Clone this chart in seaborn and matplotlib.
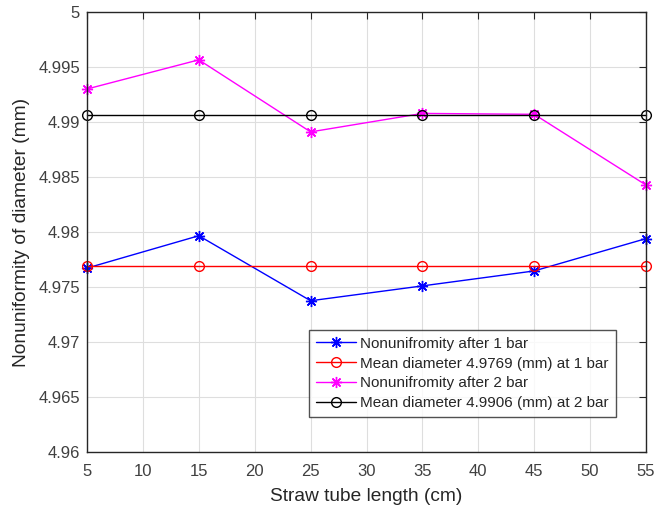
import numpy as np
import pandas as pd
import matplotlib
matplotlib.use("Agg")
import matplotlib.pyplot as plt
import seaborn as sns

# data
length_cm = [5, 15, 25, 35, 45, 55]
nonuni_1bar = [4.97672, 4.97966, 4.97375, 4.97510, 4.97646, 4.97940]
nonuni_2bar = [4.99300, 4.99565, 4.98910, 4.99078, 4.99070, 4.98427]
mean_1bar = 4.9769
mean_2bar = 4.9906

series = {
    "Nonunifromity after 1 bar": nonuni_1bar,
    "Mean diameter 4.9769 (mm) at 1 bar": [mean_1bar] * len(length_cm),
    "Nonunifromity after 2 bar": nonuni_2bar,
    "Mean diameter 4.9906 (mm) at 2 bar": [mean_2bar] * len(length_cm),
}
df = pd.concat(
    [pd.DataFrame({"length": length_cm, "value": v, "series": k}) for k, v in series.items()],
    ignore_index=True,
)

sns.set_style("white")
plt.rcParams["font.family"] = ["Liberation Sans", "DejaVu Sans"]

colors = ["#0000ff", "#ff0000", "#ff00ff", "#000000"]
asterisk = (8, 2, 0)  # matlab-like '*'
markers = [asterisk, "o", asterisk, "o"]

fig = plt.figure(figsize=(6.55, 5.11), dpi=100)
ax = fig.add_axes([87 / 655, 1 - 452 / 511, 559 / 655, 440 / 511])

for (name, grp), c, m in zip(df.groupby("series", sort=False), colors, markers):
    is_star = m != "o"
    sns.lineplot(
        data=grp, x="length", y="value", ax=ax, color=c, marker=m, label=name,
        linewidth=1.0, markersize=8 if is_star else 7,
        markerfacecolor=c if is_star else "none", markeredgecolor=c,
        markeredgewidth=1.0, clip_on=False,
    )

ax.set_xlim(5, 55)
ax.set_ylim(4.96, 5.0)
ax.set_xticks(np.arange(5, 56, 5))
ax.set_yticks(np.arange(4.96, 5.0001, 0.005))
ax.set_yticklabels(["4.96", "4.965", "4.97", "4.975", "4.98", "4.985", "4.99", "4.995", "5"])
ax.grid(True, color="#dedede", linewidth=0.8)
ax.set_axisbelow(True)
for s in ax.spines.values():
    s.set_color("#262626")
    s.set_linewidth(1.0)
ax.tick_params(direction="in", length=5, top=True, right=True, labelsize=12,
               labelcolor="#404040", color="#262626")
ax.tick_params(axis="x", pad=9)
ax.tick_params(axis="y", pad=5)
ax.set_xlabel("Straw tube length (cm)", fontsize=13.8, color="#262626", labelpad=6)
ax.set_ylabel("Nonuniformity of diameter (mm)", fontsize=13.8, color="#262626", labelpad=6)

leg = ax.legend(loc="lower left", bbox_to_anchor=((309 - 87) / 559, (452 - 417) / 440),
                fontsize=11, frameon=True, fancybox=False, edgecolor="#262626",
                borderpad=0.45, labelspacing=0.38, handlelength=2.6, handletextpad=0.3,
                borderaxespad=0)
leg.get_frame().set_linewidth(1.0)

fig.savefig("out.png", dpi=100)
